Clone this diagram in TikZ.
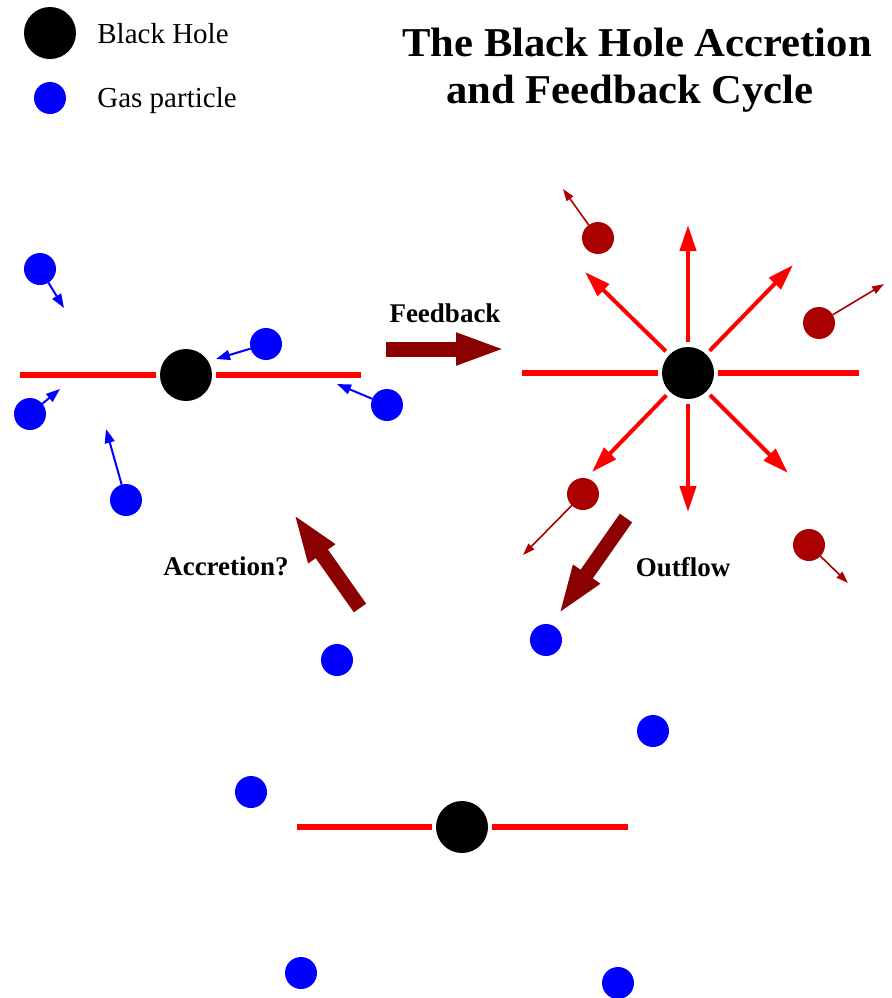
\documentclass[tikz,border=0pt]{standalone}
\usepackage{fontspec}
\setmainfont{Liberation Serif}
\usetikzlibrary{arrows.meta}
\definecolor{diskred}{RGB}{255,0,0}
\definecolor{gasblue}{RGB}{0,0,255}
\definecolor{flowred}{RGB}{139,0,0}
\definecolor{hotgas}{RGB}{170,0,0}

\begin{document}
\begin{tikzpicture}[x=0.5pt,y=-0.5pt,
  hole/.style={circle,fill=black,minimum size=26pt,inner sep=0pt,outer sep=0pt},
  gas/.style={circle,fill=gasblue,minimum size=16pt,inner sep=0pt,outer sep=0pt},
  hot/.style={gas,fill=hotgas},
  disk/.style={draw=diskred,line width=3pt,shorten >=2pt},
  jet/.style={draw=diskred,line width=2pt,shorten <=2.5pt,-{Triangle[length=13pt,width=8pt]}},
  infall/.style={draw=gasblue,line width=1pt,-{Triangle[length=7pt,width=5pt]}},
  escape/.style={draw=hotgas,line width=0.8pt,-{Triangle[length=6pt,width=4pt]}},
  bigarrow/.style={draw=flowred,line width=7.5pt,-{Triangle[length=25pt,width=14.5pt]}},
  legendtext/.style={anchor=base west,inner sep=0pt,font=\fontsize{14.5pt}{17pt}\selectfont},
  titletext/.style={anchor=base,inner sep=0pt,xscale=1.04,transform shape,
    font=\bfseries\fontsize{20.5pt}{23pt}\selectfont},
  label/.style={inner sep=0pt,font=\bfseries\fontsize{13.5pt}{16pt}\selectfont}
]
\useasboundingbox (0,0) rectangle (891,998);

% legend
\node[hole] (lbh) at (50,33) {};
\node[legendtext] (lbhtext) at (97,43) {Black Hole};
\node[gas] (lgas) at (50,98) {};
\node[legendtext] (lgastext) at (97,107) {Gas particle};

% title
\node[titletext] (title1) at (637,56) {The Black Hole Accretion};
\node[titletext] (title2) at (630,103) {and Feedback Cycle};

% accreting black hole with infalling gas
\node[hole] (bh1) at (186,375) {};
\coordinate (d1l) at (20,375);
\coordinate (d1r) at (361,375);
\draw[disk] (d1l) -- (bh1);
\draw[disk] (d1r) -- (bh1);

\node[gas] (p1) at (40,269) {};
\node[gas] (p2) at (266,344) {};
\node[gas] (p3) at (30,414) {};
\node[gas] (p4) at (387,405) {};
\node[gas] (p5) at (126,500) {};
\coordinate (p1t) at (64,308);
\coordinate (p2t) at (216,359);
\coordinate (p3t) at (60,389);
\coordinate (p4t) at (337,384);
\coordinate (p5t) at (106,429);
\draw[infall] (p1) -- (p1t);
\draw[infall] (p2) -- (p2t);
\draw[infall] (p3) -- (p3t);
\draw[infall] (p4) -- (p4t);
\draw[infall] (p5) -- (p5t);

% feedback phase
\node[hole] (bh2) at (688,373) {};
\coordinate (d2l) at (522,373);
\coordinate (d2r) at (859,373);
\draw[disk] (d2l) -- (bh2);
\draw[disk] (d2r) -- (bh2);

\coordinate (jn) at (688,225);
\coordinate (js) at (688,512);
\coordinate (jnw) at (585,272);
\coordinate (jne) at (793,265);
\coordinate (jsw) at (592,472);
\coordinate (jse) at (788,473);
\foreach \j in {jn,js,jnw,jne,jsw,jse}
  \draw[jet] (bh2) -- (\j);

\node[hot] (q1) at (598,238) {};
\node[hot] (q2) at (819,323) {};
\node[hot] (q3) at (583,494) {};
\node[hot] (q4) at (809,545) {};
\coordinate (q1t) at (563,189);
\coordinate (q2t) at (884,284);
\coordinate (q3t) at (523,555);
\coordinate (q4t) at (848,583);
\draw[escape] (q1) -- (q1t);
\draw[escape] (q2) -- (q2t);
\draw[escape] (q3) -- (q3t);
\draw[escape] (q4) -- (q4t);

% cycle arrows
\coordinate (fbtail) at (386,349);
\coordinate (fbtip) at (506,349);
\draw[bigarrow] (fbtail) -- (fbtip);
\node[label] (fblabel) at (445,313) {Feedback};

\coordinate (oftail) at (626,518);
\coordinate (oftip) at (558,615);
\draw[bigarrow] (oftail) -- (oftip);
\node[label] (oflabel) at (683,567) {Outflow};

\coordinate (actail) at (360,608);
\coordinate (actip) at (293,513);
\draw[bigarrow] (actail) -- (actip);
\node[label] (aclabel) at (226,566) {Accretion?};

% quiescent black hole with dispersed gas
\node[hole] (bh3) at (462,827) {};
\coordinate (d3l) at (297,827);
\coordinate (d3r) at (628,827);
\draw[disk] (d3l) -- (bh3);
\draw[disk] (d3r) -- (bh3);

\node[gas] (g1) at (546,640) {};
\node[gas] (g2) at (337,660) {};
\node[gas] (g3) at (653,731) {};
\node[gas] (g4) at (251,792) {};
\node[gas] (g5) at (301,973) {};
\node[gas] (g6) at (618,983) {};
\end{tikzpicture}
\end{document}
